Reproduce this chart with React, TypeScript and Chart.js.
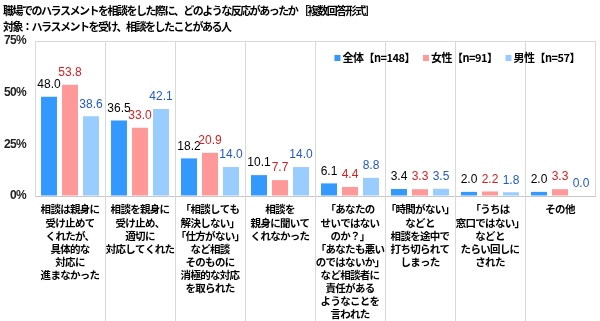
import React, { useEffect, useRef } from "react";
import { Chart, registerables } from "chart.js";

Chart.register(...registerables);

const titleLines = [
  "職場でのハラスメントを相談をした際に、どのような反応があったか ［複数回答形式］",
  "対象：ハラスメントを受け、相談をしたことがある人",
];

const categories: string[][] = [
  ["相談は親身に", "受け止めて", "くれたが、", "具体的な", "対応に", "進まなかった"],
  ["相談を親身に", "受け止め、", "適切に", "対応してくれた"],
  ["「相談しても", "解決しない」", "「仕方がない」", "など相談", "そのものに", "消極的な対応", "を取られた"],
  ["相談を", "親身に聞いて", "くれなかった"],
  ["「あなたの", "せいではない", "のか？」", "「あなたも悪い", "のではないか」", "など相談者に", "責任がある", "ようなことを", "言われた"],
  ["「時間がない」", "などと", "相談を途中で", "打ち切られて", "しまった"],
  ["「うちは", "窓口ではない」", "などと", "たらい回しに", "された"],
  ["その他"],
];

const seriesNames = ["全体【n=148】", "女性【n=91】", "男性【n=57】"];
const allValues = [48.0, 36.5, 18.2, 10.1, 6.1, 3.4, 2.0, 2.0];
const femaleValues = [53.8, 33.0, 20.9, 7.7, 4.4, 3.3, 2.2, 3.3];
const maleValues = [38.6, 42.1, 14.0, 14.0, 8.8, 3.5, 1.8, 0.0];
const yTicks = [0, 25, 50, 75];

const barColors = ["#3399FF", "#FF9999", "#99CCFF"];
const labelColors = ["#000000", "#D42020", "#2457C8"];

const JP = '"Noto Sans CJK JP", "Noto Sans CJK SC", sans-serif';
const LAT = '"Liberation Sans", Arial, sans-serif';

const setSpacing = (ctx: any, v: string) => {
  try { ctx.letterSpacing = v; } catch (e) {}
};

const spacingPlugin = {
  id: "scaleSpacing",
  beforeDraw(chart: any) {
    setSpacing(chart.ctx, "-0.7px");
  },
  beforeDatasetsDraw(chart: any) {
    setSpacing(chart.ctx, "0px");
  },
};

const titlePlugin = {
  id: "customTitle",
  afterDraw(chart: any) {
    const ctx = chart.ctx;
    ctx.save();
    ctx.fillStyle = "#000";
    ctx.font = `bold 11px ${JP}`;
    ctx.textBaseline = "middle";
    ctx.textAlign = "left";
    setSpacing(ctx, "-1.5px");
    ctx.fillText(titleLines[0], 3, 11);
    ctx.fillText(titleLines[1], 3, 27);
    ctx.restore();
  },
};

const legendPlugin = {
  id: "insideLegend",
  afterDraw(chart: any) {
    const ctx = chart.ctx;
    const area = chart.chartArea;
    ctx.save();
    ctx.font = `bold 11px ${JP}`;
    ctx.textBaseline = "middle";
    ctx.textAlign = "left";
    setSpacing(ctx, "-0.5px");
    const box = 6;
    const gapBox = 2;
    const gapItem = 8;
    const names = chart.data.datasets.map((d: any) => d.label as string);
    const widths = names.map((n: string) => ctx.measureText(n).width);
    const total = widths.reduce((a: number, w: number) => a + box + gapBox + w, 0) + gapItem * (names.length - 1);
    let x = area.right - 15 - total;
    const y = 58;
    names.forEach((n: string, i: number) => {
      ctx.fillStyle = chart.data.datasets[i].backgroundColor;
      ctx.fillRect(x, y - box / 2, box, box);
      x += box + gapBox;
      ctx.fillStyle = "#000";
      ctx.fillText(n, x, y);
      x += widths[i] + gapItem;
    });
    ctx.restore();
  },
};

const separatorPlugin = {
  id: "separators",
  afterDraw(chart: any) {
    const ctx = chart.ctx;
    const xs = chart.scales.x;
    const area = chart.chartArea;
    ctx.save();
    ctx.strokeStyle = "#D9D9D9";
    ctx.lineWidth = 1;
    for (let i = 1; i < categories.length; i++) {
      const x = Math.round((xs.getPixelForValue(i - 1) + xs.getPixelForValue(i)) / 2) + 0.5;
      ctx.beginPath();
      ctx.moveTo(x, area.bottom);
      ctx.lineTo(x, chart.height);
      ctx.stroke();
    }
    ctx.restore();
  },
};

const valueLabelPlugin = {
  id: "valueLabels",
  afterDatasetsDraw(chart: any) {
    const ctx = chart.ctx;
    ctx.save();
    setSpacing(ctx, "0px");
    ctx.font = `12px ${LAT}`;
    ctx.textAlign = "center";
    ctx.textBaseline = "middle";
    chart.data.datasets.forEach((ds: any, di: number) => {
      const meta = chart.getDatasetMeta(di);
      ctx.fillStyle = labelColors[di];
      meta.data.forEach((el: any, i: number) => {
        const v = ds.data[i] as number;
        ctx.fillText(v.toFixed(1), el.x, el.y - 12);
      });
    });
    ctx.restore();
  },
};

export default function App() {
  const ref = useRef<HTMLCanvasElement>(null);
  useEffect(() => {
    if (!ref.current) return;
    const chart = new Chart(ref.current, {
      type: "bar",
      data: {
        labels: categories,
        datasets: [
          { label: seriesNames[0], data: allValues, backgroundColor: barColors[0] },
          { label: seriesNames[1], data: femaleValues, backgroundColor: barColors[1] },
          { label: seriesNames[2], data: maleValues, backgroundColor: barColors[2] },
        ],
      },
      options: {
        responsive: false,
        animation: false,
        layout: { padding: { top: 41, right: 5, left: 0, bottom: 0 } },
        datasets: {
          bar: { categoryPercentage: 0.9, barPercentage: 0.76 },
        },
        plugins: {
          legend: { display: false },
          tooltip: { enabled: false },
          title: { display: false },
        },
        scales: {
          x: {
            grid: {
              color: "#D9D9D9",
              drawTicks: false,
              offset: true,
            },
            border: { color: "#C8C8C8" },
            ticks: {
              autoSkip: false,
              maxRotation: 0,
              minRotation: 0,
              padding: 7,
              color: "#000",
              font: { family: JP, size: 10.5, weight: "bold", lineHeight: 1.24 },
            },
            afterFit(scale: any) {
              scale.height = 125;
            },
          },
          y: {
            min: 0,
            max: 75,
            afterBuildTicks(scale: any) {
              scale.ticks = yTicks.map((v) => ({ value: v }));
            },
            grid: {
              drawTicks: false,
              color: (c: any) => (c.tick && c.tick.value === 75 ? "#D9D9D9" : "rgba(0,0,0,0)"),
            },
            border: { color: "#D9D9D9" },
            ticks: {
              padding: 9,
              color: "#222",
              font: { family: LAT, size: 12, weight: "bold" },
              callback: (v: any) => `${v}%`,
            },
            afterFit(scale: any) {
              scale.width = 35;
            },
          },
        },
      },
      plugins: [spacingPlugin, titlePlugin, legendPlugin, separatorPlugin, valueLabelPlugin],
    } as any);
    return () => chart.destroy();
  }, []);
  return (
    <div style={{ position: "fixed", left: 0, top: 0, width: 600, height: 321, background: "#fff" }}>
      <canvas ref={ref} width={600} height={321} style={{ display: "block" }} />
    </div>
  );
}
